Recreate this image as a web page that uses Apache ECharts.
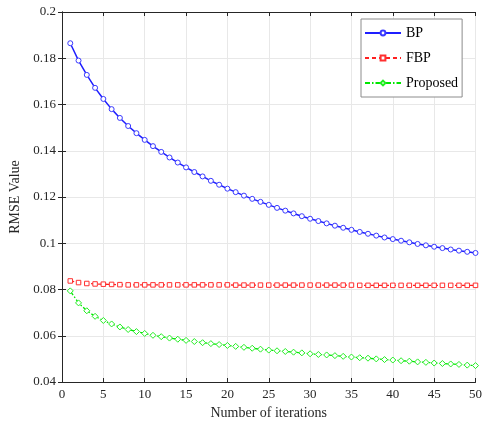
<!DOCTYPE html>
<html>
<head>
<meta charset="utf-8">
<script src="https://cdn.jsdelivr.net/npm/echarts@6/dist/echarts.min.js"></script>
<style>
  html, body { margin: 0; padding: 0; background: #fff; }
  #chart { width: 485px; height: 426px; }
</style>
</head>
<body>
<div id="chart"></div>
<script>
// Iteration counts 1..50
const iterations = [];
for (let i = 1; i <= 50; i++) iterations.push(i);

// RMSE per iteration for each method
const bpValues = [
  0.1865, 0.1790, 0.1728, 0.1672, 0.1624, 0.1580, 0.1542, 0.1507, 0.1476, 0.1447,
  0.1420, 0.1395, 0.1371, 0.1349, 0.1328, 0.1308, 0.1289, 0.1270, 0.1253, 0.1236,
  0.1221, 0.1206, 0.1192, 0.1179, 0.1166, 0.1153, 0.1141, 0.1129, 0.1117, 0.1106,
  0.1096, 0.1086, 0.1076, 0.1067, 0.1058, 0.1049, 0.1041, 0.1033, 0.1025, 0.1018,
  0.1011, 0.1004, 0.0997, 0.0991, 0.0985, 0.0979, 0.0973, 0.0968, 0.0963, 0.0958
];
const fbpValues = [
  0.0837, 0.0830, 0.0826, 0.0824, 0.0823, 0.0822, 0.0821, 0.0820, 0.0820, 0.0820,
  0.0820, 0.0820, 0.0820, 0.0820, 0.0820, 0.0820, 0.0820, 0.0820, 0.0820, 0.0820,
  0.0819, 0.0819, 0.0819, 0.0819, 0.0819, 0.0819, 0.0819, 0.0819, 0.0819, 0.0819,
  0.0819, 0.0819, 0.0819, 0.0819, 0.0819, 0.0818, 0.0818, 0.0818, 0.0818, 0.0818,
  0.0818, 0.0818, 0.0818, 0.0818, 0.0818, 0.0818, 0.0818, 0.0818, 0.0818, 0.0818
];
const proposedValues = [
  0.0794, 0.0742, 0.0708, 0.0684, 0.0666, 0.0651, 0.0638, 0.0627, 0.0618, 0.0610,
  0.0602, 0.0596, 0.0590, 0.0585, 0.0580, 0.0575, 0.0570, 0.0566, 0.0562, 0.0558,
  0.0554, 0.0550, 0.0546, 0.0542, 0.0538, 0.0535, 0.0532, 0.0529, 0.0526, 0.0522,
  0.0519, 0.0517, 0.0514, 0.0511, 0.0508, 0.0505, 0.0503, 0.0500, 0.0497, 0.0495,
  0.0492, 0.0490, 0.0487, 0.0485, 0.0482, 0.0480, 0.0478, 0.0476, 0.0473, 0.0471
];

const seriesNames = ['BP', 'FBP', 'Proposed'];
const xTitle = 'Number of iterations';
const yTitle = 'RMSE Value';

const FONT = '"Liberation Serif", "DejaVu Serif", serif';
const AXIS_COLOR = '#262626';
const GRID_COLOR = '#e8e8e8';

function pairs(vals) {
  return vals.map((v, i) => [iterations[i], v]);
}

const chart = echarts.init(document.getElementById('chart'), null, { renderer: 'canvas' });

const boxAxis = {
  axisLine: { show: true, lineStyle: { color: AXIS_COLOR, width: 1 } },
  axisTick: { show: true, inside: true, length: 4, lineStyle: { color: AXIS_COLOR } },
  axisLabel: { show: false },
  splitLine: { show: false }
};

chart.setOption({
  animation: false,
  backgroundColor: '#ffffff',
  textStyle: { fontFamily: FONT },
  grid: { left: 55, right: 6, top: 12, bottom: 44, containLabel: false },
  legend: {
    data: seriesNames,
    orient: 'vertical',
    left: 361,
    top: 19,
    itemWidth: 36,
    itemHeight: 6,
    itemGap: 11,
    padding: [7, 4, 7, 3],
    backgroundColor: '#ffffff',
    borderColor: '#8c8c8c',
    borderWidth: 1,
    textStyle: { fontFamily: FONT, fontSize: 14, color: '#000' }
  },
  xAxis: [
    {
      type: 'value', min: 0, max: 50, interval: 5,
      name: xTitle, nameLocation: 'middle', nameGap: 22,
      nameTextStyle: { fontFamily: FONT, fontSize: 14, color: AXIS_COLOR },
      axisLine: { show: true, lineStyle: { color: AXIS_COLOR } },
      axisTick: { show: true, inside: true, length: 4, lineStyle: { color: AXIS_COLOR } },
      axisLabel: { fontFamily: FONT, fontSize: 13, color: AXIS_COLOR, margin: 6 },
      splitLine: { show: true, lineStyle: { color: GRID_COLOR, width: 1 } }
    },
    Object.assign({ type: 'value', min: 0, max: 50, interval: 5, position: 'top' }, boxAxis)
  ],
  yAxis: [
    {
      type: 'value', min: 0.04, max: 0.2, interval: 0.02,
      name: yTitle, nameLocation: 'middle', nameGap: 40, nameRotate: 90,
      nameTextStyle: { fontFamily: FONT, fontSize: 14, color: AXIS_COLOR },
      axisLine: { show: true, lineStyle: { color: AXIS_COLOR } },
      axisTick: { show: true, inside: true, length: 4, lineStyle: { color: AXIS_COLOR } },
      axisLabel: {
        fontFamily: FONT, fontSize: 13, color: AXIS_COLOR, margin: 6,
        formatter: v => String(parseFloat(v.toFixed(4)))
      },
      splitLine: { show: true, lineStyle: { color: GRID_COLOR, width: 1 } }
    },
    Object.assign({ type: 'value', min: 0.04, max: 0.2, interval: 0.02, position: 'right' }, boxAxis)
  ],
  series: [
    {
      name: 'BP', type: 'line', data: pairs(bpValues),
      symbol: 'circle', symbolSize: 5, showAllSymbol: true,
      itemStyle: { color: '#ffffff', borderColor: '#3a3aff', borderWidth: 1 },
      lineStyle: { color: '#1f1fff', width: 1.5, type: 'solid' },
      color: '#1f1fff', z: 4
    },
    {
      name: 'FBP', type: 'line', data: pairs(fbpValues),
      symbol: 'rect', symbolSize: 4.5, showAllSymbol: true,
      itemStyle: { color: '#ffffff', borderColor: '#ff3030', borderWidth: 1 },
      lineStyle: { color: '#ff2020', width: 1.3, type: [4, 3] },
      color: '#ff2020', z: 3
    },
    {
      name: 'Proposed', type: 'line', data: pairs(proposedValues),
      symbol: 'diamond', symbolSize: 6, showAllSymbol: true,
      itemStyle: { color: '#ffffff', borderColor: '#22ee22', borderWidth: 1 },
      lineStyle: { color: '#00e600', width: 1.3, type: [5, 2, 1.5, 2] },
      color: '#00e600', z: 3
    }
  ]
});
</script>
</body>
</html>
